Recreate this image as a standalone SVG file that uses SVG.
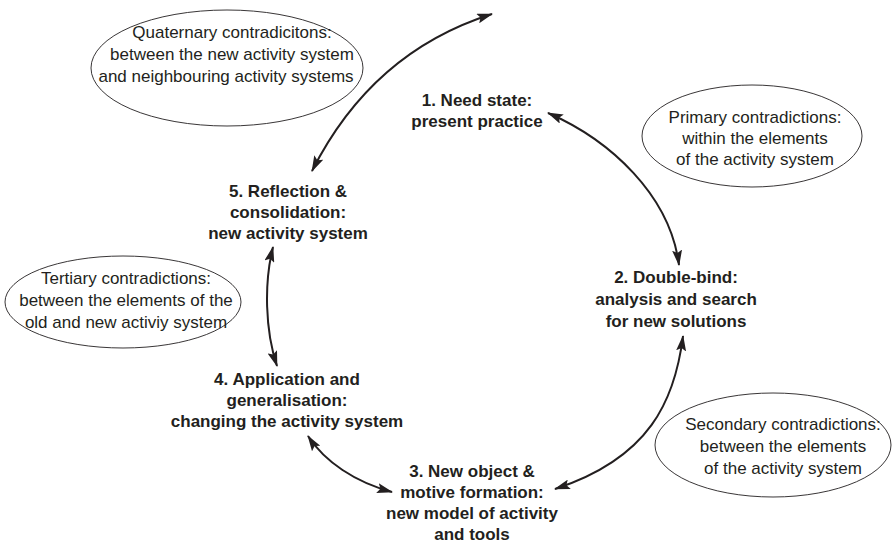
<svg xmlns="http://www.w3.org/2000/svg" width="892" height="545" viewBox="0 0 892 545">
  <style>
    .bg { fill: #ffffff; }
    .oval { fill: none; stroke: #231f20; stroke-width: 0.9; }
    .note { font-family: "Liberation Sans", Arial, sans-serif; font-size: 17px; fill: #231f20; text-anchor: middle; }
    .stage { font-family: "Liberation Sans", Arial, sans-serif; font-size: 17px; font-weight: bold; fill: #231f20; text-anchor: middle; }
    .link { fill: none; stroke: #231f20; stroke-width: 2; marker-start: url(#head); marker-end: url(#head); }
  </style>
  <defs>
    <marker id="head" viewBox="0 0 16 10" refX="15" refY="5" markerWidth="16" markerHeight="10" markerUnits="userSpaceOnUse" orient="auto-start-reverse">
      <path d="M0,0 L16,5 L0,10 L3,5 Z" fill="#231f20"/>
    </marker>
  </defs>
  <rect class="bg" x="0" y="0" width="892" height="545"/>

  <!-- contradiction notes -->
  <g id="quaternary">
    <ellipse class="oval" cx="227" cy="68" rx="136" ry="58"/>
    <text class="note" x="232" y="38">Quaternary contradicitons:</text>
    <text class="note" x="232" y="60">between the new activity system</text>
    <text class="note" x="226" y="82">and neighbouring activity systems</text>
  </g>
  <g id="primary">
    <ellipse class="oval" cx="752" cy="136" rx="110" ry="51"/>
    <text class="note" x="755" y="123">Primary contradictions:</text>
    <text class="note" x="755" y="144">within the elements</text>
    <text class="note" x="755" y="165">of the activity system</text>
  </g>
  <g id="secondary">
    <ellipse class="oval" cx="773" cy="445" rx="118" ry="52"/>
    <text class="note" x="783" y="430">Secondary contradictions:</text>
    <text class="note" x="783" y="452">between the elements</text>
    <text class="note" x="783" y="474">of the activity system</text>
  </g>
  <g id="tertiary">
    <ellipse class="oval" cx="123" cy="302" rx="118" ry="46"/>
    <text class="note" x="126" y="284">Tertiary contradictions:</text>
    <text class="note" x="126" y="306">between the elements of the</text>
    <text class="note" x="126" y="328">old and new activiy system</text>
  </g>

  <!-- cycle stages -->
  <g id="stage1">
    <text class="stage" x="477" y="106">1. Need state:</text>
    <text class="stage" x="477" y="127">present practice</text>
  </g>
  <g id="stage2">
    <text class="stage" x="676" y="283">2. Double-bind:</text>
    <text class="stage" x="676" y="305">analysis and search</text>
    <text class="stage" x="676" y="327">for new solutions</text>
  </g>
  <g id="stage3">
    <text class="stage" x="472" y="477">3. New object &amp;</text>
    <text class="stage" x="472" y="498">motive formation:</text>
    <text class="stage" x="472" y="519">new model of activity</text>
    <text class="stage" x="472" y="540">and tools</text>
  </g>
  <g id="stage4">
    <text class="stage" x="287" y="385">4. Application and</text>
    <text class="stage" x="287" y="406">generalisation:</text>
    <text class="stage" x="287" y="427">changing the activity system</text>
  </g>
  <g id="stage5">
    <text class="stage" x="288" y="197">5. Reflection &amp;</text>
    <text class="stage" x="288" y="218">consolidation:</text>
    <text class="stage" x="288" y="239">new activity system</text>
  </g>

  <!-- connectors -->
  <g id="connectors">
    <path class="link" d="M312,171 Q372,52 492,14"/>
    <path class="link" d="M548,113 C610,140 670,195 679,265"/>
    <path class="link" d="M683,336 C675,400 650,458 555,489"/>
    <path class="link" d="M308,436 C325,462 355,482 392,492"/>
    <path class="link" d="M273,247 C264,283 265,330 277,366"/>
  </g>
</svg>
